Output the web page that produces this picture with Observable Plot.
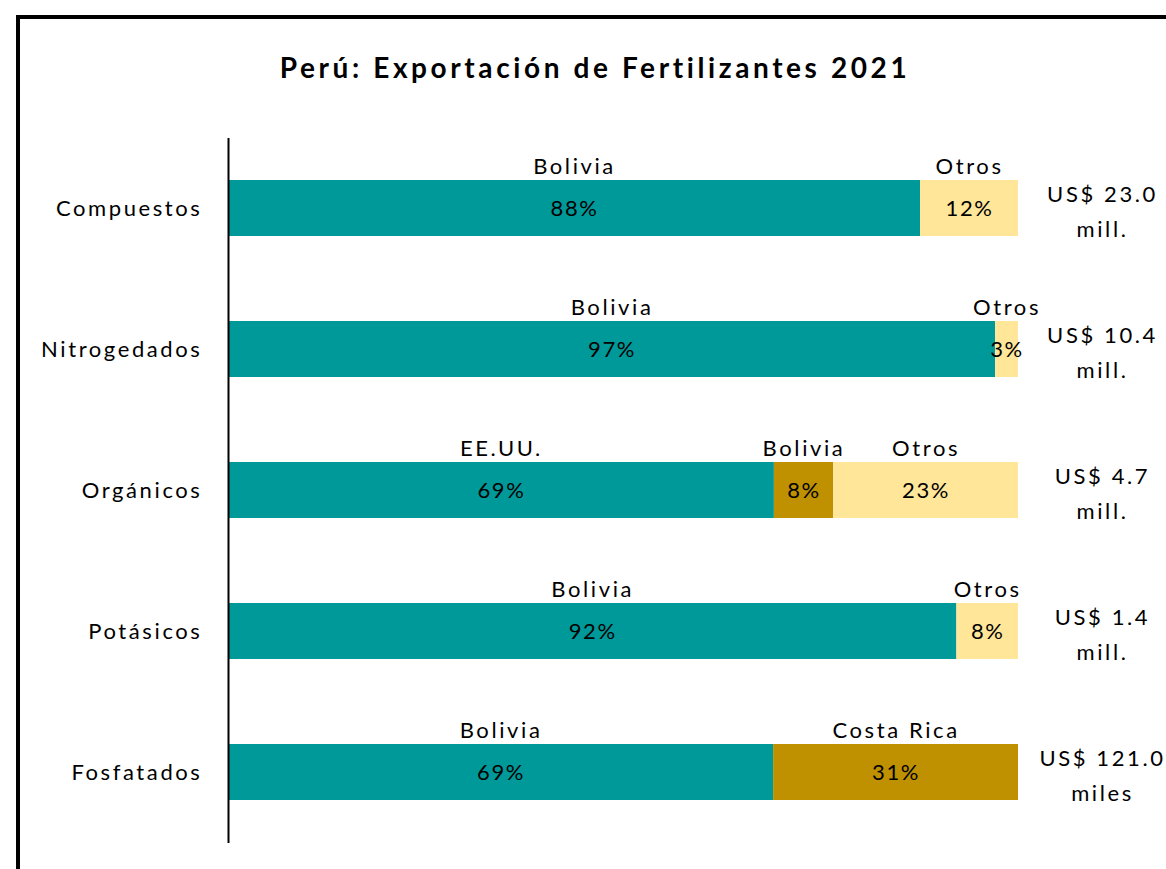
<!DOCTYPE html>
<html>
<head>
<meta charset="utf-8">
<script src="https://cdn.jsdelivr.net/npm/d3@7"></script>
<script src="https://cdn.jsdelivr.net/npm/@observablehq/plot@0.6"></script>
<style>
  html, body { margin: 0; padding: 0; background: #fff; }
  #wrap { position: relative; width: 1166px; height: 869px; overflow: hidden; font-family: Lato, "Open Sans", sans-serif; }
  #frame { position: absolute; left: 16px; top: 15px; right: -10px; bottom: -10px; border-top: 4px solid #000; border-left: 4px solid #000; }
  #title { position: absolute; top: 50px; left: 0; width: 1190px; text-align: center; font-weight: bold; font-size: 28px; letter-spacing: 3.6px; color: #000; }
  #chart { position: absolute; left: 0; top: 0; }
  #chart svg text { letter-spacing: 2.6px; }
  #chart svg g.pct text { letter-spacing: 1.6px; }
</style>
</head>
<body>
<div id="wrap">
  <div id="frame"></div>
  <div id="title">Perú: Exportación de Fertilizantes 2021</div>
  <div id="chart"></div>
</div>
<script>
const categories = ["Compuestos", "Nitrogedados", "Orgánicos", "Potásicos", "Fosfatados"];
const countries = [
  ["Bolivia", "Otros"],
  ["Bolivia", "Otros"],
  ["EE.UU.", "Bolivia", "Otros"],
  ["Bolivia", "Otros"],
  ["Bolivia", "Costa Rica"]
];
const shares = [
  [87.6, 12.4],
  [97.1, 2.9],
  [69.1, 7.5, 23.4],
  [92.2, 7.8],
  [69.0, 31.0]
];
const totals = ["US$ 23.0", "US$ 10.4", "US$ 4.7", "US$ 1.4", "US$ 121.0"];
const units = ["mill.", "mill.", "mill.", "mill.", "miles"];

const rows = [];
categories.forEach((cat, i) => {
  countries[i].forEach((c, j) => {
    const kind = j === 0 ? "Principal" : (c === "Otros" ? "Otros" : "Secundario");
    rows.push({cat, country: c, value: shares[i][j], kind, label: Math.round(shares[i][j]) + "%"});
  });
});
const totalRows = categories.map((cat, i) => ({cat, text: totals[i] + "\n" + units[i]}));

const font = "Lato, 'Open Sans', sans-serif";
const plot = Plot.plot({
  width: 1166,
  height: 869,
  marginTop: 138,
  marginBottom: 26,
  marginLeft: 228,
  marginRight: 148,
  style: {fontFamily: font, fontSize: "22px", color: "#000", background: "transparent", overflow: "visible"},
  x: {domain: [0, 100], axis: null},
  y: {domain: categories, paddingInner: 0.6, paddingOuter: 0.3, label: null},
  color: {domain: ["Principal", "Secundario", "Otros"], range: ["#009999", "#BF9000", "#FFE699"]},
  marks: [
    Plot.barX(rows, Plot.stackX({x: "value", y: "cat", fill: "kind", order: null})),
    Plot.text(rows, Plot.stackX({x: "value", y: "cat", text: "label", order: null, fontSize: 22, fill: "#000", className: "pct"})),
    Plot.text(rows, Plot.stackX({x: "value", y: "cat", text: "country", order: null, fontSize: 22, fill: "#000", dy: -42})),
    Plot.text(totalRows, {x: () => 100, y: "cat", text: "text", dx: 84, fontSize: 22, lineHeight: 1.6, fill: "#000"}),
    Plot.axisY({tickSize: 0, tickPadding: 26, fontSize: 22, label: null}),
    Plot.ruleX([0], {stroke: "#000", strokeWidth: 2})
  ]
});
document.getElementById("chart").appendChild(plot);
</script>
</body>
</html>
